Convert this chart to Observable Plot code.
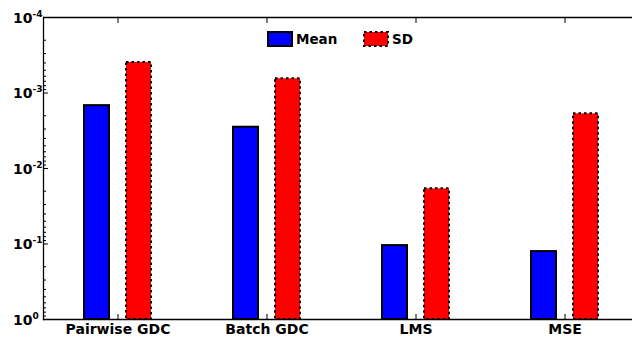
<!DOCTYPE html>
<html><head><meta charset="utf-8">
<script src="https://cdn.jsdelivr.net/npm/d3@7"></script>
<script src="https://cdn.jsdelivr.net/npm/@observablehq/plot@0.6"></script>
<style>
body{margin:0;background:#fff;}
#wrap{position:relative;width:632px;height:346px;overflow:hidden;font-family:"DejaVu Sans";font-weight:bold;}
.leg{position:absolute;top:31px;display:flex;align-items:center;font-size:13.5px;color:#000;}
.leg svg{display:block;margin-right:3px;}
</style></head><body><div id="wrap"></div>
<script>
const categories = ["Pairwise GDC", "Batch GDC", "LMS", "MSE"];
const series = ["Mean", "SD"];
const meanValues = [1.47e-3, 2.84e-3, 0.105, 0.126];
const sdValues = [3.94e-4, 6.48e-4, 0.0186, 1.89e-3];
const yTicks = [1e-4, 1e-3, 1e-2, 1e-1, 1];
const yTickBase = "10";
const yTickExponents = ["-4", "-3", "-2", "-1", "0"];
const minorMultipliers = [2, 3, 4, 5, 6, 7, 8, 9];
const seriesColors = ["#0000ff", "#ff0000"];

const meanData = categories.map((c, i) => ({category: c, series: "Mean", value: meanValues[i]}));
const sdData = categories.map((c, i) => ({category: c, series: "SD", value: sdValues[i]}));
const minorTicks = yTicks.slice(0, -1).flatMap(t => minorMultipliers.map(m => m * t));
const expData = yTicks.map((t, i) => ({tick: t, exp: yTickExponents[i]}));

const plot = Plot.plot({
  width: 632, height: 346,
  marginLeft: 43, marginTop: 17, marginBottom: 27, marginRight: -7.5,
  style: {fontFamily: "DejaVu Sans", fontSize: "14px", fontWeight: "bold", color: "#000", background: "#fff", overflow: "hidden"},
  fx: {domain: categories, padding: 0, label: null},
  x: {domain: series, paddingInner: 0.4, paddingOuter: 0.96, axis: null},
  y: {type: "log", domain: [1, 1e-4], axis: null},
  color: {domain: series, range: seriesColors},
  marks: [
    Plot.barY(meanData, {fx: "category", x: "series", y1: () => 1, y2: "value", fill: "series", stroke: "#000", strokeWidth: 2}),
    Plot.barY(sdData, {fx: "category", x: "series", y1: () => 1, y2: "value", fill: "series", stroke: "#000", strokeWidth: 2, strokeDasharray: "2.5,3"}),
    Plot.ruleY([1e-4, 1], {stroke: "#000", strokeWidth: 1.3}),
    Plot.frame({anchor: "left", facetAnchor: "left", stroke: "#000", strokeWidth: 1.3}),
    Plot.axisY({ticks: yTicks, tickSize: 0, tickPadding: 11, tickFormat: () => yTickBase, fontSize: 14, dy: 1, label: null}),
    Plot.text(expData, {y: "tick", text: "exp", frameAnchor: "left", facetAnchor: "left", textAnchor: "start", lineAnchor: "bottom", dx: -11, dy: -1, fontSize: 9, fontWeight: "bold", fill: "#000"}),
    Plot.axisY({ticks: yTicks, tickSize: -5, tickFormat: () => "", label: null, stroke: "#000"}),
    Plot.axisY({ticks: minorTicks, tickSize: -3, tickFormat: () => "", label: null, stroke: "#000"}),
    Plot.axisFx({anchor: "bottom", tickSize: 0, tickPadding: 5, label: null, fontSize: 14}),
    Plot.axisFx({anchor: "bottom", tickSize: -5, tickFormat: () => "", label: null}),
    Plot.axisFx({anchor: "top", tickSize: -5, tickFormat: () => "", label: null})
  ]
});
const wrap = document.getElementById("wrap");
wrap.appendChild(plot);

function legendItem(name, color, dash, left) {
  const d = document.createElement("div");
  d.className = "leg";
  d.style.left = left + "px";
  d.innerHTML = `<svg width="26" height="16"><rect x="1" y="1" width="24" height="14" fill="${color}" stroke="#000" stroke-width="2" ${dash ? `stroke-dasharray="${dash}"` : ""}/></svg><span>${name}</span>`;
  wrap.appendChild(d);
}
legendItem(series[0], seriesColors[0], null, 267);
legendItem(series[1], seriesColors[1], "2.5,3", 363);
</script></body></html>
